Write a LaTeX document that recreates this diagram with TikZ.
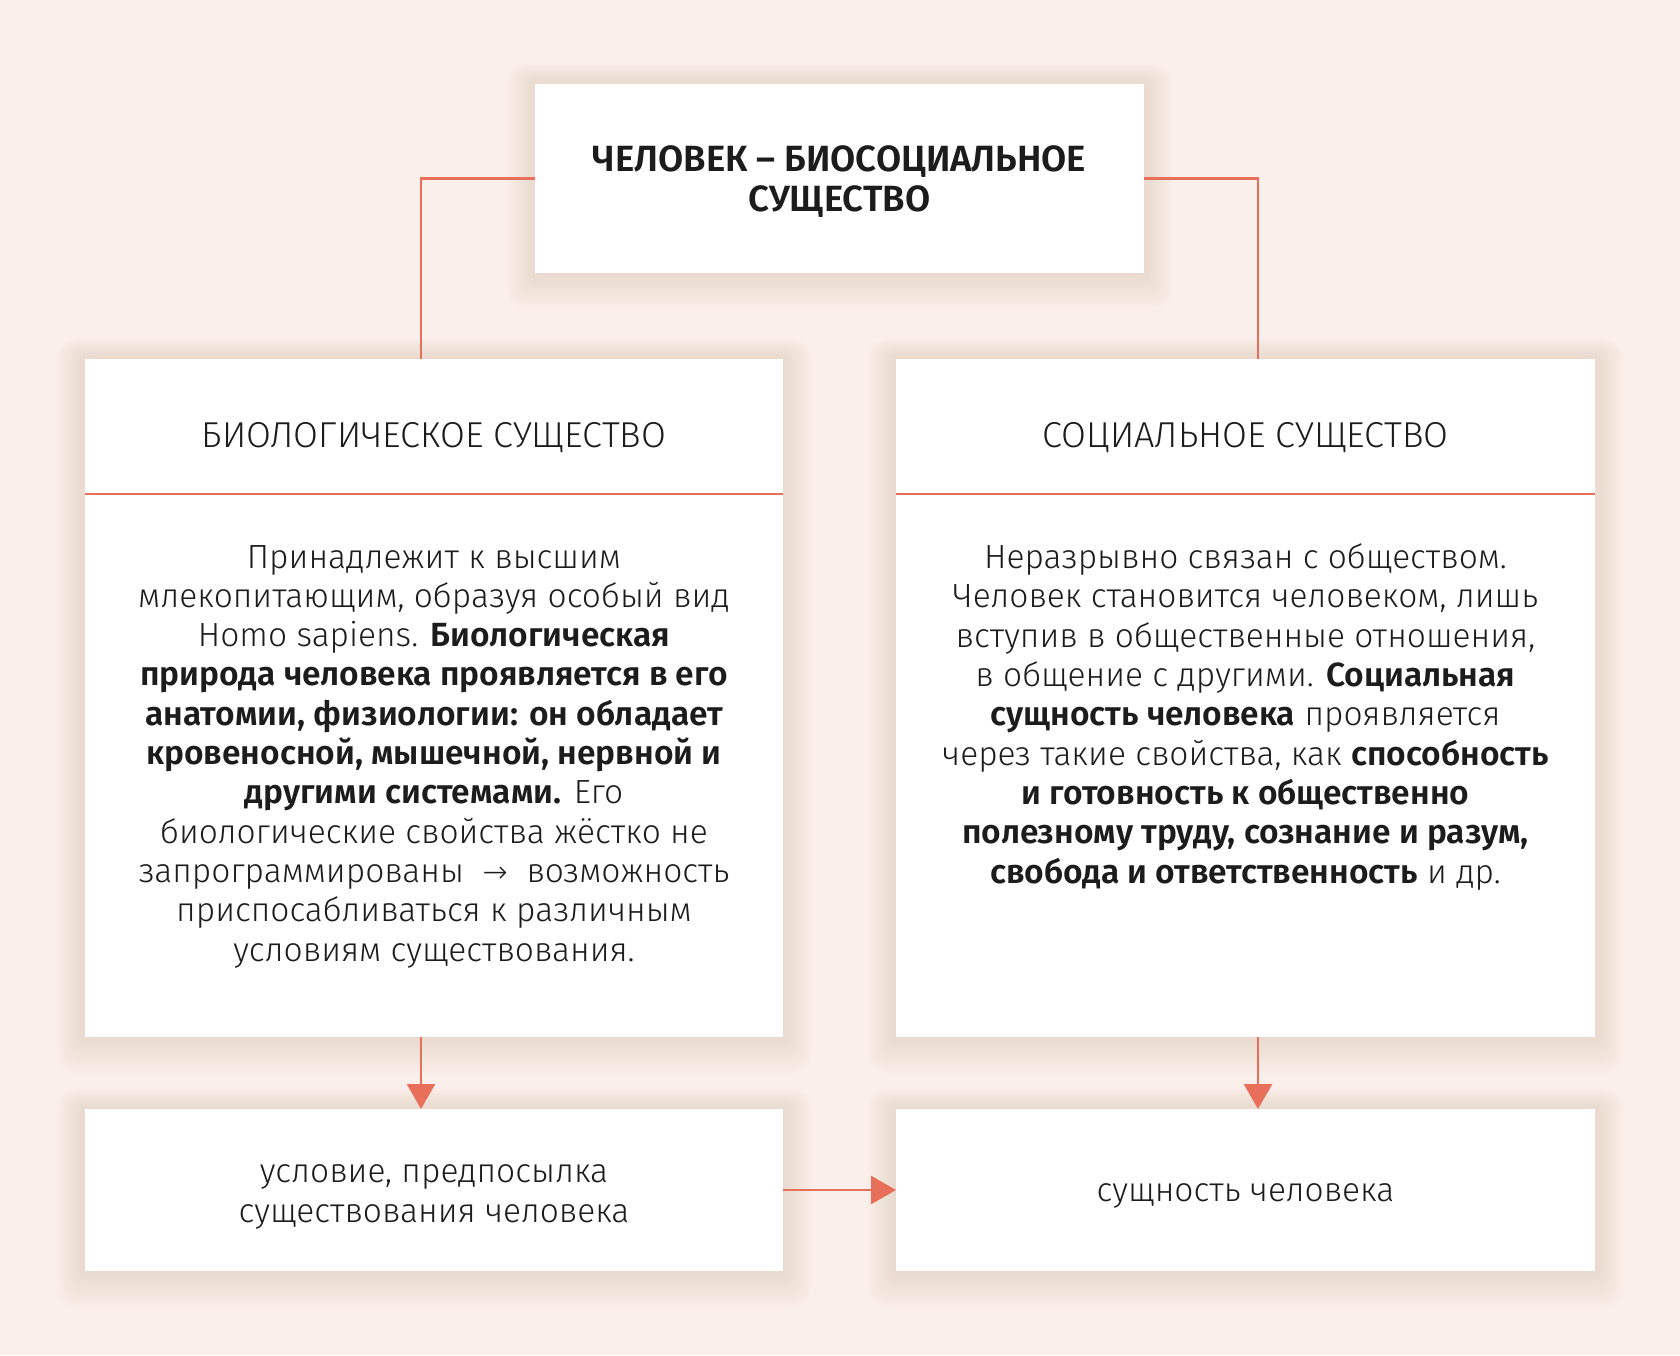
\documentclass[tikz,border=0pt]{standalone}
\usepackage{fontspec}
\setmainfont{Fira Sans Light}[BoldFont={Fira Sans SemiBold}]
\usetikzlibrary{arrows.meta,calc}
\definecolor{bg}{HTML}{FBEFEC}
\definecolor{acc}{HTML}{E8705A}
\definecolor{glow}{HTML}{EBAE9C}
\definecolor{ink}{HTML}{1C1C1C}
\tikzset{
  card/.style={draw=none,fill=white,inner sep=0pt,outer sep=0pt},
  conn/.style={draw=acc,line width=2.8pt},
  arr/.style={conn,-{Triangle[length=25pt,width=28pt]}},
  txt/.style={align=center,text=ink,inner sep=0pt},
  body/.style={txt,font=\fontsize{33.5}{39.3}\selectfont},
  head/.style={txt,font=\fontsize{36}{40}\selectfont},
}
\newcommand{\glowof}[1]{%
  \foreach \i in {1,...,20}{%
    \fill[glow,opacity=0.016,rounded corners=\i pt]
      ($(#1.north west)+(-\i*1.4,-\i*1.0)$) rectangle ($(#1.south east)+(\i*1.4,\i*1.8)$);
  }}
\begin{document}
\begin{tikzpicture}[x=1pt,y=-1pt]
\fill[bg] (0,0) rectangle (1680,1355);
\useasboundingbox (0,0) rectangle (1680,1355);
% positions
\coordinate (topc) at (839.5,178.5);
\coordinate (lc) at (434,698);
\coordinate (rc) at (1245.5,698);
\coordinate (blc) at (434,1190);
\coordinate (brc) at (1245.5,1190);
\coordinate (lx) at (421,0);
\coordinate (rx) at (1258,0);
% shadows
\node[minimum width=609pt,minimum height=189pt,inner sep=0pt] (s1) at (topc) {};
\node[minimum width=698pt,minimum height=678pt,inner sep=0pt] (s2) at (lc) {};
\node[minimum width=699pt,minimum height=678pt,inner sep=0pt] (s3) at (rc) {};
\node[minimum width=698pt,minimum height=162pt,inner sep=0pt] (s4) at (blc) {};
\node[minimum width=699pt,minimum height=162pt,inner sep=0pt] (s5) at (brc) {};
\glowof{s1}\glowof{s2}\glowof{s3}\glowof{s4}\glowof{s5}
% cards
\node[card,minimum width=609pt,minimum height=189pt] (top) at (topc) {};
\node[card,minimum width=698pt,minimum height=678pt] (left) at (lc) {};
\node[card,minimum width=699pt,minimum height=678pt] (right) at (rc) {};
\node[card,minimum width=698pt,minimum height=162pt] (bl) at (blc) {};
\node[card,minimum width=699pt,minimum height=162pt] (br) at (brc) {};
% dividers
\draw[draw=acc,line width=2pt] ($(left.north west)+(0,135)$) coordinate (ld1) -- ($(left.north east)+(0,135)$) coordinate (ld2);
\draw[draw=acc,line width=2pt] ($(right.north west)+(0,135)$) coordinate (rd1) -- ($(right.north east)+(0,135)$) coordinate (rd2);
% texts (anchor=base is the baseline of the last line)
\node[txt,font=\fontsize{36.5}{40}\selectfont\bfseries,anchor=base] (tt) at ($(top.north)+(0,127)$) {ЧЕЛОВЕК – БИОСОЦИАЛЬНОЕ\\СУЩЕСТВО};
\node[head,anchor=base] (lh) at ($(left.north)+(0,88)$) {БИОЛОГИЧЕСКОЕ СУЩЕСТВО};
\node[head,anchor=base] (rh) at ($(right.north)+(0,88)$) {СОЦИАЛЬНОЕ СУЩЕСТВО};
\node[body,anchor=base] (lb) at ($(left.north)+(0,602)$) {Принадлежит к высшим\\
млекопитающим, образуя особый вид\\
Homo sapiens. \textbf{Биологическая}\\
\textbf{природа человека проявляется в его}\\
\textbf{анатомии, физиологии: он обладает}\\
\textbf{кровеносной, мышечной, нервной и}\\
\textbf{другими системами.} Его\\
биологические свойства жёстко не\\
запрограммированы \ {\fontspec{DejaVu Sans ExtraLight}\fontsize{30}{39}\selectfont →} \ возможность\\
приспосабливаться к различным\\
условиям существования.};
\node[body,anchor=base] (rb) at ($(right.north)+(0,524)$) {Неразрывно связан с обществом.\\
Человек становится человеком, лишь\\
вступив в общественные отношения,\\
в общение с другими. \textbf{Социальная}\\
\textbf{сущность человека} проявляется\\
через такие свойства, как \textbf{способность}\\
\textbf{и готовность к общественно}\\
\textbf{полезному труду, сознание и разум,}\\
\textbf{свобода и ответственность} и др.};
\node[body,anchor=base] (blt) at ($(bl.north)+(0,113)$) {условие, предпосылка\\существования человека};
\node[body,anchor=base] (brt) at ($(br.north)+(0,92)$) {сущность человека};
% connectors
\draw[conn] (top.west) -| (lx |- left.north);
\draw[conn] (top.east) -| (rx |- right.north);
\draw[arr] (lx |- left.south) -- (lx |- bl.north);
\draw[arr] (rx |- right.south) -- (rx |- br.north);
\draw[arr] (bl.east) -- (br.west);
\end{tikzpicture}
\end{document}
